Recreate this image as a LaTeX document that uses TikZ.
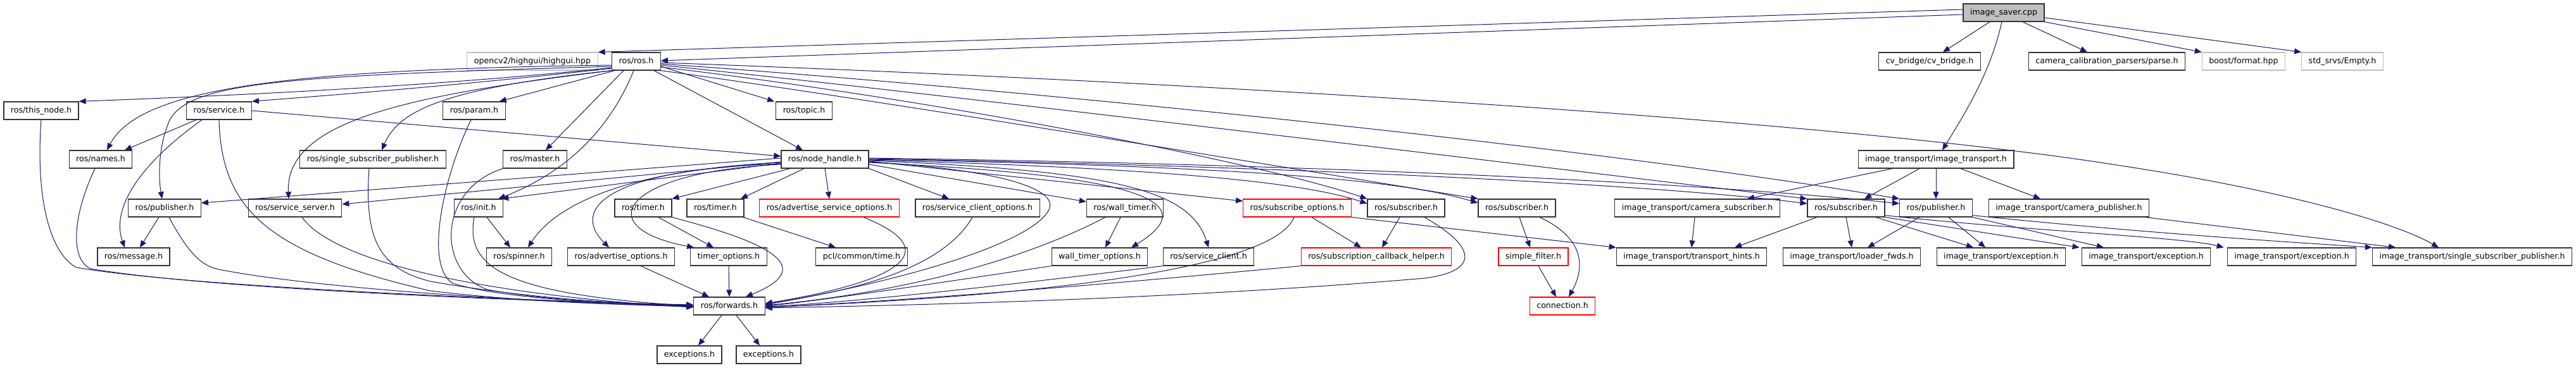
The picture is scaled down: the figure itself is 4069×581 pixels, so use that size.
\documentclass[tikz,border=0pt]{standalone}
\usepackage{fontspec}
\setmainfont{DejaVu Sans}
\usetikzlibrary{arrows.meta}
\definecolor{edgecol}{HTML}{191970}
\definecolor{ndborder}{HTML}{333333}
\definecolor{grayborder}{HTML}{BFBFBF}
\definecolor{rootfill}{HTML}{BFBFBF}
\definecolor{redborder}{HTML}{FF0000}
\newcommand\nodefont{\fontsize{12.6}{15}\selectfont}
\begin{document}
\begin{tikzpicture}[x=1pt,y=-1pt,
  nd/.style={draw=ndborder, line width=1.2pt, fill=white, minimum height=28pt,
     inner xsep=11pt, inner ysep=0pt, text height=9.6pt, text depth=2.8pt, font=\nodefont, text=black},
  gr/.style={nd, draw=grayborder},
  rd/.style={nd, draw=redborder},
  rootnd/.style={nd, fill=rootfill},
  inc/.style={draw=edgecol, line width=1pt, -{Triangle[length=11pt,width=9pt]}, fill=none}
]
\useasboundingbox (0,0) rectangle (4069,581);
% row 0
\node[rootnd] (saver) at (3165,20) {image\_saver.cpp};
% row 1
\node[gr] (opencv) at (841,97) {opencv2/highgui/highgui.hpp};
\node[nd] (ros) at (1005,97) {ros/ros.h};
\node[nd] (cvb) at (3048,97) {cv\_bridge/cv\_bridge.h};
\node[nd] (ccp) at (3328,97) {camera\_calibration\_parsers/parse.h};
\node[gr] (boost) at (3544,97) {boost/format.hpp};
\node[gr] (stdsrv) at (3700,97) {std\_srvs/Empty.h};
% row 2
\node[nd] (thisnode) at (65,175) {ros/this\_node.h};
\node[nd] (service) at (346,175) {ros/service.h};
\node[nd] (param) at (749,175) {ros/param.h};
\node[nd] (topic) at (1270,175) {ros/topic.h};
% row 3
\node[nd] (names) at (159,252) {ros/names.h};
\node[nd] (sspub) at (589,252) {ros/single\_subscriber\_publisher.h};
\node[nd] (master) at (845,252) {ros/master.h};
\node[nd] (nh) at (1303,252) {ros/node\_handle.h};
\node[nd] (it) at (3058,252) {image\_transport/image\_transport.h};
% row 4
\node[nd] (pubL) at (260,329) {ros/publisher.h};
\node[nd] (srvsrv) at (466,329) {ros/service\_server.h};
\node[nd] (init) at (756,329) {ros/init.h};
\node[nd] (timer1) at (1016,329) {ros/timer.h};
\node[nd] (timer2) at (1130,329) {ros/timer.h};
\node[rd] (aso) at (1310,329) {ros/advertise\_service\_options.h};
\node[nd] (sco) at (1544,329) {ros/service\_client\_options.h};
\node[nd] (wt) at (1777,329) {ros/wall\_timer.h};
\node[rd] (subopt) at (2049,329) {ros/subscribe\_options.h};
\node[nd] (sub1) at (2221,329) {ros/subscriber.h};
\node[nd] (sub2) at (2396,329) {ros/subscriber.h};
\node[nd] (camsub) at (2681,329) {image\_transport/camera\_subscriber.h};
\node[nd] (sub3) at (2916,329) {ros/subscriber.h};
\node[nd] (pub2) at (3058,329) {ros/publisher.h};
\node[nd] (campub) at (3268,329) {image\_transport/camera\_publisher.h};
% row 5
\node[nd] (msg) at (211,406) {ros/message.h};
\node[nd] (spinner) at (820,406) {ros/spinner.h};
\node[nd] (advopt) at (981,406) {ros/advertise\_options.h};
\node[nd] (timeropt) at (1151,406) {timer\_options.h};
\node[nd] (pcl) at (1361,406) {pcl/common/time.h};
\node[nd] (wto) at (1737,406) {wall\_timer\_options.h};
\node[nd] (srvcl) at (1909,406) {ros/service\_client.h};
\node[rd] (sch) at (2174,406) {ros/subscription\_callback\_helper.h};
\node[rd] (sfilter) at (2422,406) {simple\_filter.h};
\node[nd] (thints) at (2672,406) {image\_transport/transport\_hints.h};
\node[nd] (loader) at (2925,406) {image\_transport/loader\_fwds.h};
\node[nd] (exca) at (3161,406) {image\_transport/exception.h};
\node[nd] (excb) at (3390,406) {image\_transport/exception.h};
\node[nd] (excc) at (3620,406) {image\_transport/exception.h};
\node[nd] (ssp) at (3905,406) {image\_transport/single\_subscriber\_publisher.h};
% row 6
\node[nd] (fwd) at (1152,484) {ros/forwards.h};
\node[rd] (conn) at (2468,484) {connection.h};
% row 7
\node[nd] (exc1) at (1089,561) {exceptions.h};
\node[nd] (exc2) at (1214,561) {exceptions.h};

% ---- image_saver.cpp
\draw[inc] ([yshift=5pt]saver.west) -- (opencv.north east);
\draw[inc] ([yshift=-3pt]saver.west) -- ([yshift=1pt]ros.east);
\draw[inc] ([xshift=-22pt]saver.south) -- ([xshift=21pt]cvb.north);
\draw[inc] ([xshift=-3pt]saver.south) .. controls (3145,110) and (3110,170) .. ([xshift=10pt]it.north);
\draw[inc] ([xshift=30pt]saver.south) -- ([xshift=-31pt]ccp.north);
\draw[inc] (saver.south east) -- (boost.north west);
\draw[inc] ([yshift=-8pt]saver.east) -- (stdsrv.north west);

% ---- ros/ros.h
\draw[inc] ([yshift=-10pt]ros.west) .. controls (700,135) and (400,150) .. (thisnode.north east);
\draw[inc] ([yshift=-11pt]ros.west) .. controls (700,138) and (500,152) .. (service.north east);
\draw[inc] ([yshift=-6pt]ros.west) .. controls (450,110) and (220,140) .. ([xshift=10pt]names.north);
\draw[inc] ([yshift=-8pt]ros.west) .. controls (450,120) and (300,130) .. (268,190) .. controls (250,230) and (250,280) .. ([xshift=-4pt]pubL.north);
\draw[inc] (ros.south west) .. controls (700,140) and (630,175) .. ([xshift=14pt]sspub.north);
\draw[inc] (ros.south west) .. controls (650,150) and (450,190) .. ([xshift=-10pt]srvsrv.north);
\draw[inc] ([xshift=5pt]ros.south west) -- ([xshift=-10pt]param.north east);
\draw[inc] ([xshift=-20pt]ros.south) -- ([xshift=17pt]master.north);
\draw[inc] ([xshift=-4pt]ros.south) .. controls (965,200) and (900,270) .. ([xshift=-8pt]init.north east);
\draw[inc] ([yshift=-8pt]ros.east) -- ([xshift=-2pt]topic.north west);
\draw[inc] ([xshift=28pt]ros.south) -- ([xshift=-35pt]nh.north);
\draw[inc] ([yshift=-2pt]ros.east) .. controls (1900,130) and (2900,190) .. (3350,262) .. controls (3600,300) and (3780,350) .. ([xshift=-53pt]ssp.north);
\draw[inc] ([yshift=-4pt]ros.east) .. controls (1600,140) and (2500,230) .. (pub2.north west);
\draw[inc] ([yshift=-6pt]ros.east) .. controls (1500,150) and (2400,260) .. (sub3.north west);
\draw[inc] ([yshift=-9pt]ros.east) .. controls (1500,160) and (2000,260) .. (sub1.north west);
\draw[inc] (ros.south east) .. controls (1400,160) and (2000,260) .. (sub2.north west);

% ---- ros/node_handle.h
\draw[inc] ([yshift=2pt]nh.west) -- ([yshift=8pt]pubL.east);
\draw[inc] ([yshift=-4pt]nh.west) -- ([yshift=6pt]srvsrv.east);
\draw[inc] ([yshift=-6pt]nh.west) -- ([xshift=-3pt]init.north east);
\draw[inc] ([yshift=-5pt]nh.west) .. controls (1000,268) and (880,320) .. ([xshift=14pt]spinner.north);
\draw[inc] ([yshift=-7pt]nh.west) .. controls (960,268) and (900,330) .. ([xshift=-19pt]advopt.north);
\draw[inc] ([yshift=-8pt]nh.west) .. controls (980,272) and (930,360) .. ([xshift=6pt]timeropt.north west);
\draw[inc] ([xshift=-55pt]nh.south) -- (timer1.north east);
\draw[inc] ([xshift=-33pt]nh.south) -- ([xshift=40pt]timer2.north);
\draw[inc] (nh.south) -- (aso.north);
\draw[inc] (nh.south east) -- ([xshift=-45pt]sco.north);
\draw[inc] ([yshift=-8pt]nh.east) -- ([yshift=10pt]wt.west);
\draw[inc] ([yshift=-4pt]nh.east) .. controls (1580,268) and (1680,300) .. (1655,335) .. controls (1620,390) and (1400,450) .. ([yshift=3pt]fwd.east);
\draw[inc] ([yshift=-3pt]nh.east) -- ([yshift=11pt]subopt.west);
\draw[inc] ([yshift=-5pt]nh.east) .. controls (1750,275) and (1920,310) .. ([xshift=50pt]wto.north);
\draw[inc] ([yshift=-2pt]nh.east) .. controls (1760,270) and (1880,300) .. (srvcl.north);
\draw[inc] ([yshift=-1pt]nh.east) .. controls (1800,265) and (2050,285) .. ([yshift=7pt]sub1.west);
\draw[inc] (nh.east) .. controls (1900,262) and (2200,280) .. ([yshift=8pt]sub2.west);
\draw[inc] ([yshift=1pt]nh.east) .. controls (2000,262) and (2600,290) .. ([yshift=7pt]sub3.west);
\draw[inc] ([yshift=2pt]nh.east) .. controls (2100,260) and (2700,290) .. ([yshift=7pt]pub2.west);

% ---- into ros/forwards.h from the left
\draw[inc] (thisnode.south) .. controls (55,330) and (85,405) .. (121,423) .. controls (300,455) and (900,478) .. ([yshift=2pt]fwd.west);
\draw[inc] ([xshift=-9pt]names.south) .. controls (115,340) and (110,410) .. (143,425) .. controls (350,460) and (900,478) .. ([yshift=1pt]fwd.west);
\draw[inc] (service.south) .. controls (350,330) and (420,400) .. (680,460) .. controls (850,480) and (1000,482) .. (fwd.west);
\draw[inc] ([xshift=7pt]pubL.south) .. controls (300,405) and (320,420) .. (345,426) .. controls (520,460) and (900,480) .. ([yshift=-1pt]fwd.west);
\draw[inc] ([xshift=11pt]srvsrv.south) .. controls (540,430) and (850,472) .. ([yshift=-2pt]fwd.west);
\draw[inc] ([xshift=-6pt]sspub.south) .. controls (575,380) and (600,425) .. (680,445) .. controls (850,475) and (1000,480) .. (fwd.west);
\draw[inc] ([xshift=-5pt]param.south) .. controls (700,280) and (670,420) .. (715,448) .. controls (800,475) and (1000,481) .. (fwd.west);
\draw[inc] (master.south west) .. controls (690,300) and (690,430) .. (770,458) .. controls (880,478) and (1020,482) .. (fwd.west);
\draw[inc] ([xshift=-7pt]init.south) .. controls (735,420) and (790,465) .. (fwd.west);
% ---- into ros/forwards.h from above and right
\draw[inc] (timer1.south east) .. controls (1200,380) and (1300,420) .. ([xshift=26pt]fwd.north);
\draw[inc] ([xshift=31pt]advopt.south) -- ([xshift=-32pt]fwd.north);
\draw[inc] (timeropt.south) -- (fwd.north);
\draw[inc] ([xshift=54pt]aso.south) .. controls (1480,390) and (1450,440) .. ([yshift=4pt]fwd.east);
\draw[inc] ([xshift=-8pt]sco.south) .. controls (1480,440) and (1300,465) .. ([yshift=2pt]fwd.east);
\draw[inc] ([xshift=-31pt]wt.south) .. controls (1600,420) and (1400,465) .. ([yshift=1pt]fwd.east);
\draw[inc] (wto.south west) .. controls (1500,445) and (1300,475) .. (fwd.east);
\draw[inc] (srvcl.south west) .. controls (1600,450) and (1350,478) .. ([yshift=-1pt]fwd.east);
\draw[inc] ([xshift=-5pt]subopt.south) .. controls (2010,430) and (1600,470) .. ([yshift=-2pt]fwd.east);
\draw[inc] (sch.south west) .. controls (1800,445) and (1450,475) .. ([yshift=-2pt]fwd.east);
\draw[inc] ([xshift=29pt]sub1.south) .. controls (2340,395) and (2330,430) .. (2250,440) .. controls (1900,470) and (1500,482) .. ([yshift=-3pt]fwd.east);

% ---- other edges, left part
\draw[inc] ([xshift=-36pt]service.south) -- ([xshift=38pt]names.north);
\draw[inc] ([xshift=-27pt]service.south) .. controls (220,260) and (175,330) .. ([xshift=-14pt]msg.north);
\draw[inc] (service.east) -- ([yshift=5pt]nh.west);
\draw[inc] ([xshift=-9pt]pubL.south) -- ([xshift=10pt]msg.north);
\draw[inc] ([xshift=13pt]init.south) -- ([xshift=-14pt]spinner.north);
\draw[inc] ([xshift=24pt]timer1.south) -- ([xshift=-24pt]timeropt.north);
\draw[inc] ([xshift=44pt]timer2.south) -- ([xshift=-41pt]pcl.north);
\draw[inc] ([xshift=-7pt]wt.south) -- ([xshift=9pt]wto.north);
\draw[inc] ([xshift=23pt]subopt.south) -- ([xshift=-24pt]sch.north);
\draw[inc] (subopt.south east) -- (thints.north west);
\draw[inc] ([xshift=-10pt]sub1.south) -- ([xshift=9pt]sch.north);
\draw[inc] ([xshift=4pt]sub2.south) -- ([xshift=-5pt]sfilter.north);
\draw[inc] ([xshift=36pt]sub2.south) .. controls (2510,380) and (2500,430) .. ([xshift=10pt]conn.north);
\draw[inc] ([xshift=8pt]sfilter.south) -- ([xshift=-10pt]conn.north);
\draw[inc] ([xshift=-4pt]camsub.south) -- (thints.north);
\draw[inc] ([xshift=-12pt]fwd.south) -- ([xshift=14pt]exc1.north);
\draw[inc] ([xshift=11pt]fwd.south) -- ([xshift=-14pt]exc2.north);

% ---- image_transport part
\draw[inc] ([xshift=-69pt]it.south) -- ([xshift=79pt]camsub.north);
\draw[inc] ([xshift=-26pt]it.south) -- ([xshift=29pt]sub3.north);
\draw[inc] (it.south) -- (pub2.north);
\draw[inc] ([xshift=39pt]it.south) -- ([xshift=-45pt]campub.north);
\draw[inc] ([xshift=-46pt]sub3.south) -- ([xshift=68pt]thints.north);
\draw[inc] (sub3.south) -- (loader.north);
\draw[inc] ([xshift=47pt]sub3.south) -- ([xshift=-44pt]exca.north);
\draw[inc] (sub3.south east) -- ([xshift=-3pt]excb.north west);
\draw[inc] ([yshift=3pt]sub3.south east) .. controls (3200,365) and (3450,375) .. ([xshift=-5pt]excc.north west);
\draw[inc] ([xshift=-26pt]pub2.south) -- ([xshift=25pt]loader.north);
\draw[inc] ([xshift=20pt]pub2.south) -- ([xshift=-25pt]exca.north);
\draw[inc] (pub2.south east) -- ([xshift=-67pt]excb.north);
\draw[inc] ([yshift=3pt]pub2.south east) .. controls (3400,370) and (3650,385) .. (ssp.north west);
\draw[inc] ([xshift=-6pt]campub.south east) -- ([xshift=-121pt]ssp.north);
\end{tikzpicture}
\end{document}
